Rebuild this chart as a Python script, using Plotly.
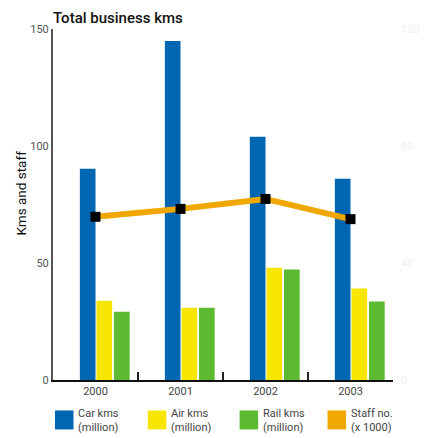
import plotly.graph_objects as go

years = ["2000", "2001", "2002", "2003"]
car_kms = [90.3, 144.9, 103.9, 86.0]
air_kms = [33.9, 30.9, 48.0, 39.1]
rail_kms = [29.2, 30.9, 47.2, 33.5]
staff_no = [55.8, 58.5, 61.9, 55.0]

series_names = ["Car kms", "Air kms", "Rail kms", "Staff no."]
series_units = ["(million)", "(million)", "(million)", "(x 1000)"]
colors = ["#0066B1", "#F7E600", "#5BBA2F", "#F0A800"]

left_ticks = [0, 50, 100, 150]
right_ticks = [0, 40, 80, 120]

FONT = "Roboto"
OFF = 8  # page body margin
W, H = 432 - OFF, 438 - OFF
# plot area in window pixels: x 53..401, y 29..380.5
L = 53 - OFF
T = 29 - OFF
R = W - (401 - OFF)
B = H - (380.5 - OFF)


def px_x(x):
    return (x - 53) / (401 - 53)


def px_y(y):
    return (380.5 - y) / (380.5 - 29)


fig = go.Figure()
bw = 0.184
offsets = [-bw, 0.012, 0.218]
for vals, name, col, off in zip([car_kms, air_kms, rail_kms], series_names[:3], colors[:3], offsets):
    fig.add_trace(go.Bar(x=years, y=vals, name=name, marker=dict(color=col, line=dict(width=0)),
                         width=bw, offset=off, showlegend=False))

fig.add_trace(go.Scatter(x=years, y=staff_no, yaxis="y2", mode="lines+markers", name=series_names[3],
                         line=dict(color=colors[3], width=6),
                         marker=dict(symbol="square", size=10, color="#000000"),
                         showlegend=False))

leg_x = [55, 150, 244, 334]
shapes = []
annotations = []
for i, (nm, un, col) in enumerate(zip(series_names, series_units, colors)):
    shapes.append(dict(type="rect", xref="paper", yref="paper",
                       x0=px_x(leg_x[i]), x1=px_x(leg_x[i] + 19),
                       y0=px_y(430), y1=px_y(411),
                       fillcolor=col, line=dict(width=0)))
    annotations.append(dict(xref="paper", yref="paper", x=px_x(leg_x[i] + 22), y=px_y(421),
                            xanchor="left", yanchor="middle", align="left", showarrow=False,
                            text=nm + "<br>" + un, font=dict(family=FONT, size=11, color="#444444")))

annotations.append(dict(xref="paper", yref="paper", x=px_x(20), y=px_y(193),
                        text="Kms and staff", textangle=-90, showarrow=False,
                        xanchor="center", yanchor="middle",
                        font=dict(family=FONT, size=13.5, color="#111111")))

fig.update_layout(
    width=W, height=H,
    margin=dict(l=L, r=R, t=T, b=B),
    paper_bgcolor="white", plot_bgcolor="white",
    barmode="overlay",
    showlegend=False,
    title=dict(text="Total business kms", x=0, xref="paper", xanchor="left",
               y=1 - (18 - OFF) / H, yanchor="middle",
               font=dict(family=FONT, size=15, color="#111111", weight=500)),
    font=dict(family=FONT),
    xaxis=dict(type="category", range=[-0.5, 3.5], showgrid=False, zeroline=False,
               showline=True, linecolor="#111111", linewidth=2,
               ticks="inside", tickson="boundaries", ticklen=8, tickwidth=2, tickcolor="#222222",
               tickfont=dict(family=FONT, size=11, color="#444444")),
    yaxis=dict(range=[0, 150], tickvals=left_ticks, showgrid=False, zeroline=False,
               showline=True, linecolor="#555555", linewidth=2, ticks="",
               tickfont=dict(family=FONT, size=11, color="#555555")),
    yaxis2=dict(range=[0, 120], tickvals=right_ticks, overlaying="y", side="right",
                showgrid=False, zeroline=False, showline=False, ticks="",
                ticklabelstandoff=7,
                tickfont=dict(family=FONT, size=11, color="#f0f0f0")),
    shapes=shapes,
    annotations=annotations,
)

fig.write_html("out.html")
